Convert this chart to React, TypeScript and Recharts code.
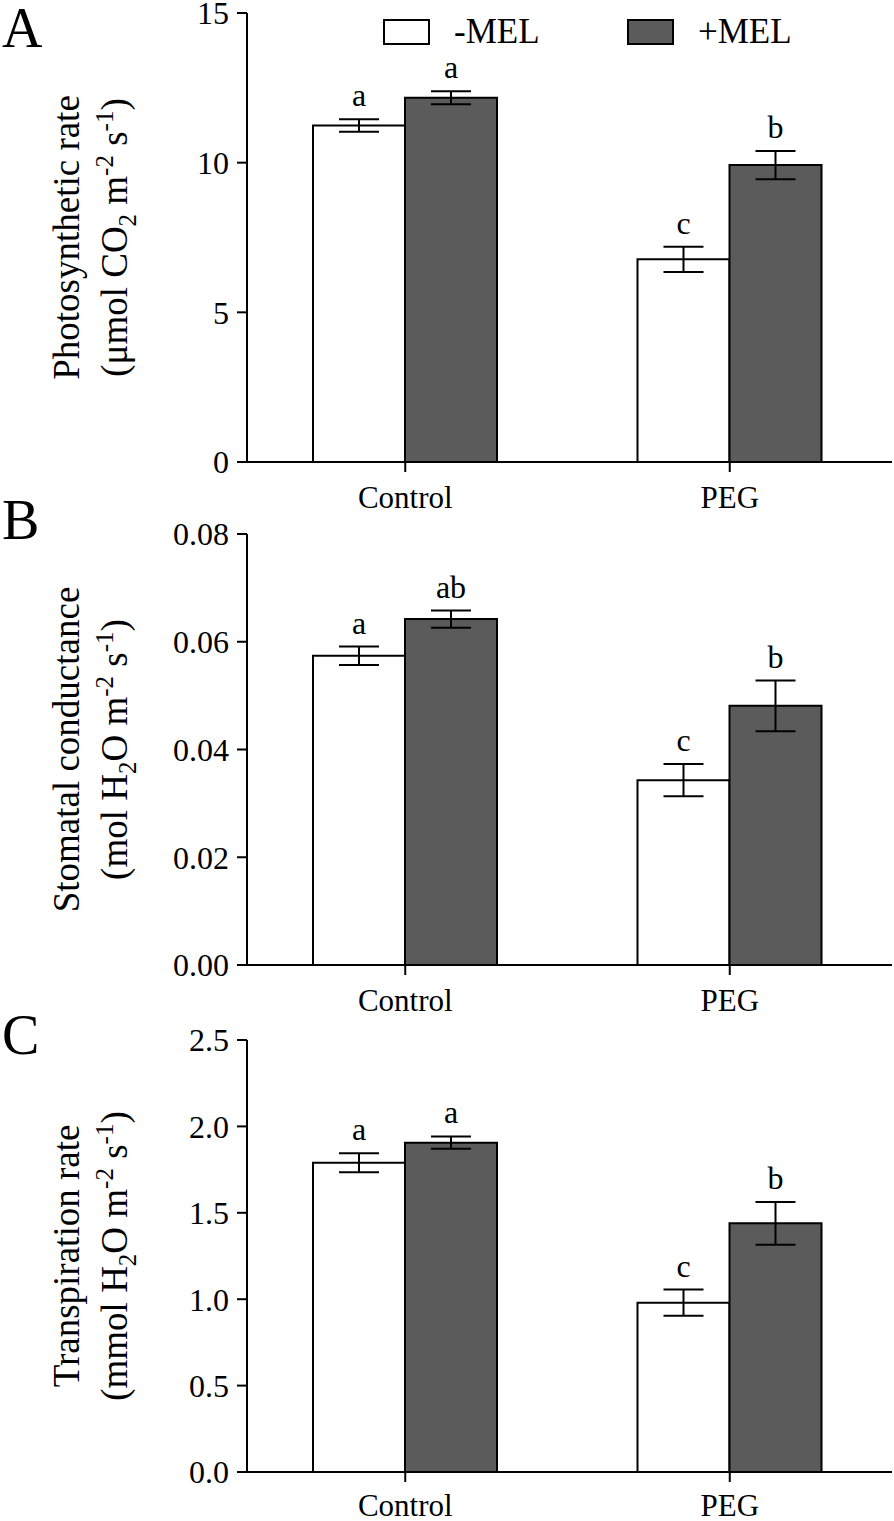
import { BarChart, Bar, XAxis, YAxis, ErrorBar, LabelList } from 'recharts';

const FONT = '"Liberation Serif", "Times New Roman", serif';

// shared categories / series
const groups = ['Control', 'PEG'];
const seriesNames = ['-MEL', '+MEL'];
const seriesFills = ['#ffffff', '#5b5b5b'];

// A: photosynthetic rate
const photoMinus = [11.24, 6.77];
const photoMinusErr = [0.21, 0.42];
const photoPlus = [12.17, 9.92];
const photoPlusErr = [0.22, 0.47];
const photoMinusTags = ['a', 'c'];
const photoPlusTags = ['a', 'b'];
const photoTicks = [0, 5, 10, 15];

// B: stomatal conductance
const condMinus = [0.0574, 0.0343];
const condMinusErr = [0.0017, 0.003];
const condPlus = [0.0642, 0.0481];
const condPlusErr = [0.0016, 0.0047];
const condMinusTags = ['a', 'c'];
const condPlusTags = ['ab', 'b'];
const condTicks = [0, 0.02, 0.04, 0.06, 0.08];

// C: transpiration rate
const transMinus = [1.79, 0.98];
const transMinusErr = [0.055, 0.076];
const transPlus = [1.906, 1.439];
const transPlusErr = [0.036, 0.124];
const transMinusTags = ['a', 'c'];
const transPlusTags = ['a', 'b'];
const transTicks = [0, 0.5, 1, 1.5, 2, 2.5];

type Part = [string, '' | 'sub' | 'sup'];

function renderParts(parts: Part[]) {
  let shift = 0;
  return parts.map(([t, kind], i) => {
    const target = kind === 'sup' ? -14 : kind === 'sub' ? 9 : 0;
    const dy = target - shift;
    shift = target;
    return (
      <tspan key={i} dy={dy} fontSize={kind ? 25 : undefined}>
        {t}
      </tspan>
    );
  });
}

function AxisTitle({ viewBox, line1, line2 }: any) {
  const cy = viewBox.y + viewBox.height / 2;
  return (
    <g fontFamily={FONT} fill="#000" fontSize={37}>
      <text x={79} y={cy} transform={`rotate(-90 79 ${cy})`} textAnchor="middle">
        {line1}
      </text>
      <text x={127} y={cy} transform={`rotate(-90 127 ${cy})`} textAnchor="middle" style={{ whiteSpace: 'pre' }}>
        {renderParts(line2)}
      </text>
    </g>
  );
}

// letter above the error bar, offset by the error converted through the bar's own px/unit
function tagLabel(values: number[], errs: number[]) {
  return (props: any) => {
    const { x, y, width, height, value, index } = props;
    const pxPerUnit = height / values[index];
    const top = y - errs[index] * pxPerUnit;
    return (
      <text x={x + width / 2} y={top - 13} textAnchor="middle" fontFamily={FONT} fontSize={32} fill="#000">
        {value}
      </text>
    );
  };
}

function Panel({ letter, letterTop, offsetTop, minus, minusErr, plus, plusErr, minusTags, plusTags, ticks, decimals, height, top, xHeight, tickGap, line1, line2, legend }: any) {
  const rows = groups.map((g, i) => ({
    group: g,
    minus: minus[i],
    plus: plus[i],
    minusErr: minusErr[i],
    plusErr: plusErr[i],
    minusTag: minusTags[i],
    plusTag: plusTags[i],
  }));
  const axisStroke = { stroke: '#000', strokeWidth: 2 };
  return (
    <div style={{ position: 'absolute', left: 0, top: offsetTop, width: 894, height }}>
      <BarChart width={894} height={height} data={rows} margin={{ top, right: 2, bottom: 0, left: 0 }} barSize={92} barGap={0}>
        <XAxis
          dataKey="group"
          height={xHeight}
          padding={{ left: -4, right: 0 }}
          axisLine={axisStroke}
          tickLine={axisStroke}
          tickSize={10}
          tickMargin={tickGap}
          tick={{ fill: '#000', fontSize: 31, fontFamily: FONT }}
        />
        <YAxis
          width={247}
          domain={[ticks[0], ticks[ticks.length - 1]]}
          ticks={ticks}
          interval={0}
          tickFormatter={(v: number) => v.toFixed(decimals)}
          axisLine={axisStroke}
          tickLine={axisStroke}
          tickSize={10}
          tickMargin={8}
          tick={{ fill: '#000', fontSize: 32, fontFamily: FONT }}
          label={{ content: (p: any) => <AxisTitle viewBox={p.viewBox} line1={line1} line2={line2} /> }}
        />
        <Bar dataKey="minus" name={seriesNames[0]} fill={seriesFills[0]} stroke="#000" strokeWidth={2} isAnimationActive={false}>
          <ErrorBar dataKey="minusErr" width={20} stroke="#000" strokeWidth={2} />
          <LabelList dataKey="minusTag" content={tagLabel(minus, minusErr)} />
        </Bar>
        <Bar dataKey="plus" name={seriesNames[1]} fill={seriesFills[1]} stroke="#000" strokeWidth={2} isAnimationActive={false}>
          <ErrorBar dataKey="plusErr" width={20} stroke="#000" strokeWidth={2} />
          <LabelList dataKey="plusTag" content={tagLabel(plus, plusErr)} />
        </Bar>
      </BarChart>
      <div style={{ position: 'absolute', left: 2, top: letterTop, fontFamily: FONT, fontSize: 56, lineHeight: '56px' }}>{letter}</div>
      {legend && (
        <div style={{ position: 'absolute', left: 0, top: 0, fontFamily: FONT, fontSize: 35 }}>
          {seriesNames.map((n, i) => (
            <div key={n} style={{ position: 'absolute', left: i === 0 ? 383 : 627, top: 12, display: 'flex', alignItems: 'center', whiteSpace: 'nowrap', lineHeight: '40px' }}>
              <div style={{ width: 43, height: 22, border: '2px solid #000', background: seriesFills[i] }} />
              <span style={{ marginLeft: 24 }}>{n}</span>
            </div>
          ))}
        </div>
      )}
    </div>
  );
}

export default function App() {
  return (
    <div style={{ width: 894, height: 1521, background: '#fff', position: 'relative', overflow: 'hidden' }}>
      <style>{'body{margin:0;background:#fff} svg{overflow:visible}'}</style>
      <Panel
        letter="A"
        letterTop={0}
        offsetTop={0}
        legend
        minus={photoMinus}
        minusErr={photoMinusErr}
        plus={photoPlus}
        plusErr={photoPlusErr}
        minusTags={photoMinusTags}
        plusTags={photoPlusTags}
        ticks={photoTicks}
        decimals={0}
        height={520}
        top={13}
        xHeight={58}
        tickGap={14}
        line1="Photosynthetic rate"
        line2={[['(μmol CO', ''], ['2', 'sub'], [' m', ''], ['-2', 'sup'], [' s', ''], ['-1', 'sup'], [')', '']]}
      />
      <Panel
        letter="B"
        letterTop={-8}
        offsetTop={500}
        minus={condMinus}
        minusErr={condMinusErr}
        plus={condPlus}
        plusErr={condPlusErr}
        minusTags={condMinusTags}
        plusTags={condPlusTags}
        ticks={condTicks}
        decimals={2}
        height={525}
        top={34}
        xHeight={60}
        tickGap={14}
        line1="Stomatal conductance"
        line2={[['(mol H', ''], ['2', 'sub'], ['O m', ''], ['-2', 'sup'], [' s', ''], ['-1', 'sup'], [')', '']]}
      />
      <Panel
        letter="C"
        letterTop={2}
        offsetTop={1005}
        minus={transMinus}
        minusErr={transMinusErr}
        plus={transPlus}
        plusErr={transPlusErr}
        minusTags={transMinusTags}
        plusTags={transPlusTags}
        ticks={transTicks}
        decimals={1}
        height={516}
        top={35}
        xHeight={49}
        tickGap={12}
        line1="Transpiration rate"
        line2={[['(mmol H', ''], ['2', 'sub'], ['O m', ''], ['-2', 'sup'], [' s', ''], ['-1', 'sup'], [')', '']]}
      />
    </div>
  );
}
